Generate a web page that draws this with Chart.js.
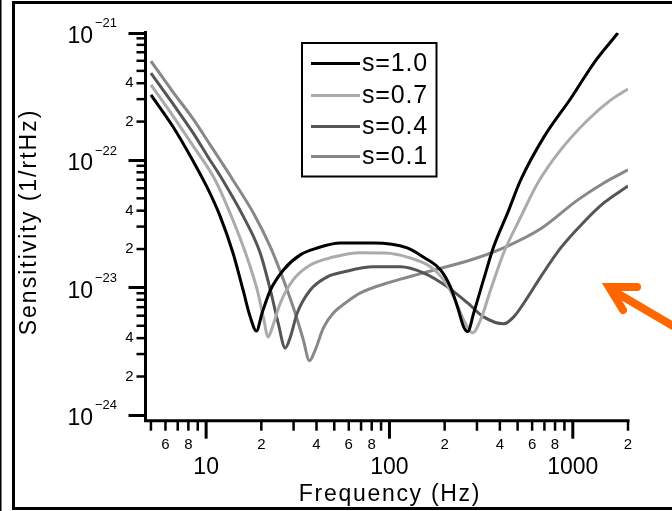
<!DOCTYPE html>
<html><head><meta charset="utf-8">
<script src="https://cdn.jsdelivr.net/npm/chart.js@4.4.0/dist/chart.umd.min.js"></script>
<style>html,body{margin:0;padding:0;background:#fff;}canvas{display:block;}</style>
</head><body>
<canvas id="c" width="672" height="511"></canvas>
<script>
// ---- data (frequency in Hz, sensitivity in 1/rtHz) ----
const freqS10 = [5.0, 6.6, 8.49, 10.1, 11.9, 14.0, 15.9, 17.4, 18.8, 20.2, 22.4, 26.4, 32.6, 40.4, 54.0, 81.8, 125, 153, 190, 215, 235, 254, 267, 288, 326, 370, 441, 520, 695, 976, 1303, 1762];
const sensS10 = [3.24e-22, 1.82e-22, 9.8e-23, 6.14e-23, 3.64e-23, 1.87e-23, 9.55e-24, 5.87e-24, 4.55e-24, 6.3e-24, 9.5e-24, 1.37e-23, 1.80e-23, 2.04e-23, 2.23e-23, 2.23e-23, 2.04e-23, 1.73e-23, 1.37e-23, 1.01e-23, 7.03e-24, 4.9e-24, 4.5e-24, 6.3e-24, 1.15e-23, 2.08e-23, 3.84e-23, 6.97e-23, 1.51e-22, 3.05e-22, 5.76e-22, 9.9e-22];

const freqS07 = [5.0, 6.6, 8.49, 11.2, 14.0, 16.7, 19.0, 20.5, 21.8, 23.0, 25.4, 29.9, 37.0, 49.4, 69.5, 95, 125, 167.5, 197, 224, 254, 284, 314, 356, 420, 520, 644, 859, 1207, 1614, 2000];
const sensS07 = [3.88e-22, 2.21e-22, 1.29e-22, 6.97e-23, 3.38e-23, 1.73e-23, 9.55e-24, 5.87e-24, 4.09e-24, 4.9e-24, 7.55e-24, 1.15e-23, 1.50e-23, 1.73e-23, 1.87e-23, 1.86e-23, 1.73e-23, 1.45e-23, 1.15e-23, 8.4e-24, 5.56e-24, 4.4e-24, 5.56e-24, 9.55e-24, 1.87e-23, 3.57e-23, 6.6e-23, 1.20e-22, 2.06e-22, 2.96e-22, 3.6e-22];

const freqS04 = [5.0, 6.6, 8.49, 10.1, 12.4, 15.9, 19.7, 22.4, 24.7, 27.0, 28.8, 31.4, 37.0, 45.8, 56.1, 81.8, 114.8, 153, 207, 267, 326, 420, 476, 568, 668, 859, 1178, 1476, 2000];
const sensS04 = [4.81e-22, 2.75e-22, 1.63e-22, 1.09e-22, 6.85e-23, 3.64e-23, 1.87e-23, 9.55e-24, 5.27e-24, 3.35e-24, 4.09e-24, 6.3e-24, 9.55e-24, 1.21e-23, 1.32e-23, 1.45e-23, 1.45e-23, 1.30e-23, 1.01e-23, 7.55e-24, 5.87e-24, 5.18e-24, 5.87e-24, 8.4e-24, 1.21e-23, 2.04e-23, 3.38e-23, 4.6e-23, 6.25e-23];

const freqS01 = [5.0, 6.6, 8.49, 10.5, 14.0, 18.1, 22.4, 26.4, 30.6, 33.9, 36.6, 39.4, 43.6, 49.4, 57.5, 69.5, 101, 153, 288, 441, 668, 1065, 1476, 2000];
const sensS01 = [5.97e-22, 3.41e-22, 2.10e-22, 1.32e-22, 6.97e-23, 3.84e-23, 2.08e-23, 1.15e-23, 6.3e-24, 3.87e-24, 2.66e-24, 3.24e-24, 4.81e-24, 6.3e-24, 7.55e-24, 9.05e-24, 1.10e-23, 1.30e-23, 1.67e-23, 2.11e-23, 2.88e-23, 4.86e-23, 6.6e-23, 8.36e-23];

const seriesLabels = ["s=1.0", "s=0.7", "s=0.4", "s=0.1"];
const seriesColors = ["#000000", "#ababab", "#555555", "#888888"];

// ---- axes ----
const xMin = 4.67, xMax = 2000;
const yMin = 9.0e-25, yMax = 1e-21;
const xMajorTicks = [10, 100, 1000];
const xMajorLabels = ["10", "100", "1000"];
const xMinorTicks = [5, 6, 7, 8, 9, 20, 30, 40, 50, 60, 70, 80, 90, 200, 300, 400, 500, 600, 700, 800, 900, 2000];
const xMinorLabelValues = [6, 8, 20, 40, 60, 80, 200, 400, 600, 800, 2000];
const xMinorLabels = ["6", "8", "2", "4", "6", "8", "2", "4", "6", "8", "2"];
const yMajorTicks = [1e-24, 1e-23, 1e-22, 1e-21];
const yMajorBase = "10";
const yMajorExps = ["\u221224", "\u221223", "\u221222", "\u221221"];
const yMinorTicks = [2e-24, 3e-24, 4e-24, 5e-24, 6e-24, 7e-24, 8e-24, 9e-24,
                     2e-23, 3e-23, 4e-23, 5e-23, 6e-23, 7e-23, 8e-23, 9e-23,
                     2e-22, 3e-22, 4e-22, 5e-22, 6e-22, 7e-22, 8e-22, 9e-22];
const yMinorLabelValues = [2e-24, 4e-24, 2e-23, 4e-23, 2e-22, 4e-22];
const yMinorLabels = ["2", "4", "2", "4", "2", "4"];
const xTitle = "Frequency (Hz)";
const yTitle = "Sensitivity (1/rtHz)";

const FONT = '"Liberation Sans", Arial, sans-serif';
const freqs = [freqS10, freqS07, freqS04, freqS01];
const sens = [sensS10, sensS07, sensS04, sensS01];

const decor = {
  id: 'decor',
  beforeDraw(chart) {
    const ctx = chart.ctx;
    ctx.save();
    ctx.fillStyle = '#fff';
    ctx.fillRect(0, 0, chart.width, chart.height);
    ctx.restore();
  },
  afterDraw(chart) {
    const ctx = chart.ctx;
    const xs = chart.scales.x, ys = chart.scales.y;
    const ca = chart.chartArea;
    ctx.save();
    ctx.strokeStyle = '#000';
    ctx.fillStyle = '#000';
    // outer frame
    ctx.lineWidth = 1.5;
    ctx.beginPath(); ctx.moveTo(0.75, 0); ctx.lineTo(0.75, 511); ctx.stroke();
    ctx.lineWidth = 3;
    ctx.beginPath();
    ctx.moveTo(672, 2.5); ctx.lineTo(13.5, 2.5); ctx.lineTo(13.5, 508.5); ctx.lineTo(672, 508.5);
    ctx.stroke();

    // axis lines
    const L = ca.left, B = ca.bottom;
    ctx.lineWidth = 3;
    ctx.beginPath();
    ctx.moveTo(L, ys.getPixelForValue(yMax) - 1.5); ctx.lineTo(L, B);
    ctx.lineTo(xs.getPixelForValue(xMax) + 1.5, B);
    ctx.stroke();

    // y ticks
    ctx.lineWidth = 3;
    yMajorTicks.forEach(v => {
      const y = Math.round(ys.getPixelForValue(v)) + 0.5;
      ctx.beginPath(); ctx.moveTo(L - 17, y); ctx.lineTo(L, y); ctx.stroke();
    });
    ctx.lineWidth = 2.5;
    yMinorTicks.forEach(v => {
      const y = ys.getPixelForValue(v);
      ctx.beginPath(); ctx.moveTo(L - 9, y); ctx.lineTo(L, y); ctx.stroke();
    });
    // x ticks
    ctx.lineWidth = 3;
    xMajorTicks.forEach(v => {
      const x = xs.getPixelForValue(v);
      ctx.beginPath(); ctx.moveTo(x, B); ctx.lineTo(x, B + 18); ctx.stroke();
    });
    ctx.lineWidth = 2.5;
    xMinorTicks.forEach(v => {
      const x = xs.getPixelForValue(v);
      ctx.beginPath(); ctx.moveTo(x, B); ctx.lineTo(x, B + 10); ctx.stroke();
    });

    // tick labels
    ctx.textBaseline = 'middle';
    ctx.textAlign = 'center';
    ctx.font = '15px ' + FONT;
    xMinorLabelValues.forEach((v, i) => ctx.fillText(xMinorLabels[i], xs.getPixelForValue(v), B + 24));
    ctx.font = '23px ' + FONT;
    xMajorTicks.forEach((v, i) => ctx.fillText(xMajorLabels[i], xs.getPixelForValue(v), B + 47));

    ctx.textAlign = 'right';
    ctx.font = '15px ' + FONT;
    yMinorLabelValues.forEach((v, i) => ctx.fillText(yMinorLabels[i], L - 12, ys.getPixelForValue(v)));
    yMajorTicks.forEach((v, i) => {
      const y = ys.getPixelForValue(v);
      ctx.textAlign = 'right';
      ctx.font = '23px ' + FONT;
      ctx.fillText(yMajorBase, 93, y + 4);
      ctx.textAlign = 'left';
      ctx.font = '13px ' + FONT;
      ctx.fillText(yMajorExps[i], 95, y - 9);
    });

    // axis titles
    ctx.textAlign = 'center';
    ctx.font = '23px ' + FONT;
    ctx.letterSpacing = '1.7px';
    ctx.fillText(xTitle, 390, 495);
    ctx.save();
    ctx.translate(30, 222);
    ctx.rotate(-Math.PI / 2);
    ctx.letterSpacing = '2px';
    ctx.fillText(yTitle, 0, 0);
    ctx.restore();
    ctx.letterSpacing = '0px';

    // legend
    ctx.lineWidth = 2;
    ctx.strokeRect(302, 43, 134.5, 133.5);
    const rows = [63.5, 95.5, 126.5, 156.5];
    ctx.font = '25px ' + FONT;
    ctx.textAlign = 'left';
    ctx.letterSpacing = '0.8px';
    seriesLabels.forEach((lab, i) => {
      ctx.strokeStyle = seriesColors[i];
      ctx.lineWidth = 3;
      ctx.beginPath(); ctx.moveTo(311, rows[i]); ctx.lineTo(360, rows[i]); ctx.stroke();
      ctx.fillStyle = '#000';
      ctx.fillText(lab, 362, rows[i] + 1);
    });
    ctx.letterSpacing = '0px';

    // orange arrow
    ctx.strokeStyle = '#ff6600';
    ctx.lineWidth = 8;
    ctx.lineCap = 'butt';
    ctx.beginPath(); ctx.moveTo(610, 289); ctx.lineTo(690, 336); ctx.stroke();
    ctx.lineCap = 'round';
    ctx.lineJoin = 'miter';
    ctx.beginPath();
    ctx.moveTo(637, 287); ctx.lineTo(609, 287); ctx.lineTo(623, 310);
    ctx.stroke();
    ctx.restore();
  }
};

new Chart(document.getElementById('c'), {
  type: 'line',
  data: {
    datasets: seriesLabels.map((lab, i) => ({
      label: lab,
      data: freqs[i].map((f, j) => ({ x: f, y: sens[i][j] })),
      borderColor: seriesColors[i],
      borderWidth: 3,
      pointRadius: 0,
      fill: false,
      cubicInterpolationMode: 'monotone',
      borderCapStyle: 'butt'
    }))
  },
  options: {
    responsive: false,
    devicePixelRatio: 1,
    animation: false,
    layout: { padding: { left: 0, right: 44, top: 32.5, bottom: 0 } },
    plugins: { legend: { display: false }, tooltip: { enabled: false } },
    scales: {
      x: {
        type: 'logarithmic', min: xMin, max: xMax,
        ticks: { display: false }, grid: { display: false }, border: { display: false },
        afterFit(s) { s.height = 90.3; }
      },
      y: {
        type: 'logarithmic', min: yMin, max: yMax,
        ticks: { display: false }, grid: { display: false }, border: { display: false },
        afterFit(s) { s.width = 145.5; }
      }
    }
  },
  plugins: [decor]
});
</script>
</body></html>
